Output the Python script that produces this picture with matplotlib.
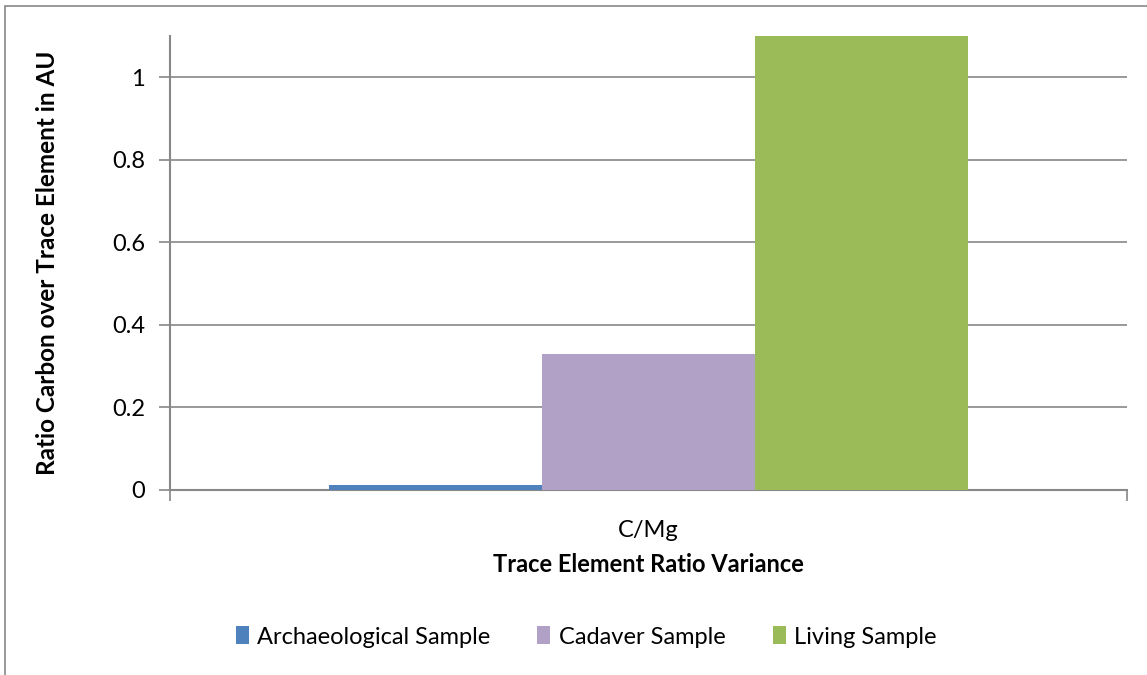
import numpy as np
import matplotlib.pyplot as plt
from matplotlib.patches import Rectangle

# data
categories = ["C/Mg"]
series = ["Archaeological Sample", "Cadaver Sample", "Living Sample"]
values = [0.012, 0.33, 1.11]
colors = ["#4F81BD", "#B2A1C7", "#9BBB59"]
yticks = [0, 0.2, 0.4, 0.6, 0.8, 1]
ytick_labels = ["0", "0.2", "0.4", "0.6", "0.8", "1"]

plt.rcParams['font.family'] = ['Lato', 'DejaVu Sans']
grid_col = "#888888"
fs = 17

fig = plt.figure(figsize=(11.47, 6.75), dpi=100)
ax = fig.add_axes([170/1147, 1 - 490/675, (1127-170)/1147, (490-36)/675])

# outer chart border (Excel style)
fig.patches.append(Rectangle((5/1147, -0.01), 1.2, 1 - 6/675 + 0.01, transform=fig.transFigure,
                             fill=False, edgecolor=grid_col, lw=1.2))

w = 0.2226
x = np.arange(len(categories))
for i, (name, v, c) in enumerate(zip(series, values, colors)):
    ax.bar(x + (i - 1) * w, [v], width=w, color=c, label=name, zorder=3)

ax.set_xlim(-0.5, 0.5)
ax.set_ylim(0, 1.1)
ax.set_yticks(yticks)
ax.set_yticklabels(ytick_labels, fontsize=fs)
ax.yaxis.grid(True, color=grid_col, lw=1.2, zorder=0)
ax.set_axisbelow(True)

ax.set_xticks([-0.5, 0.5])
ax.set_xticklabels(["", ""])
ax.tick_params(axis='x', length=8, color=grid_col, width=1.2)
ax.tick_params(axis='y', length=8, color=grid_col, width=1.2, pad=10)
ax.text(0, -0.09, categories[0], transform=ax.get_xaxis_transform(), ha='center', va='center', fontsize=fs)

for s in ['top', 'right']:
    ax.spines[s].set_visible(False)
for s in ['left', 'bottom']:
    ax.spines[s].set_color(grid_col)
    ax.spines[s].set_linewidth(1.5)

fig.text(648/1147, 1 - 565/675, "Trace Element Ratio Variance", ha='center', va='center',
         fontsize=fs, fontweight='bold')
fig.text(48/1147, 1 - 263/675, "Ratio Carbon over Trace Element in AU", ha='center', va='center',
         rotation=90, fontsize=17.5, fontweight='bold')

fig.legend(loc='center', bbox_to_anchor=(586/1147, 1 - 637/675), ncol=3, frameon=False,
           fontsize=fs, handlelength=0.55, handleheight=0.8, handletextpad=0.35, columnspacing=2.0)

fig.savefig("out.png", dpi=100)
